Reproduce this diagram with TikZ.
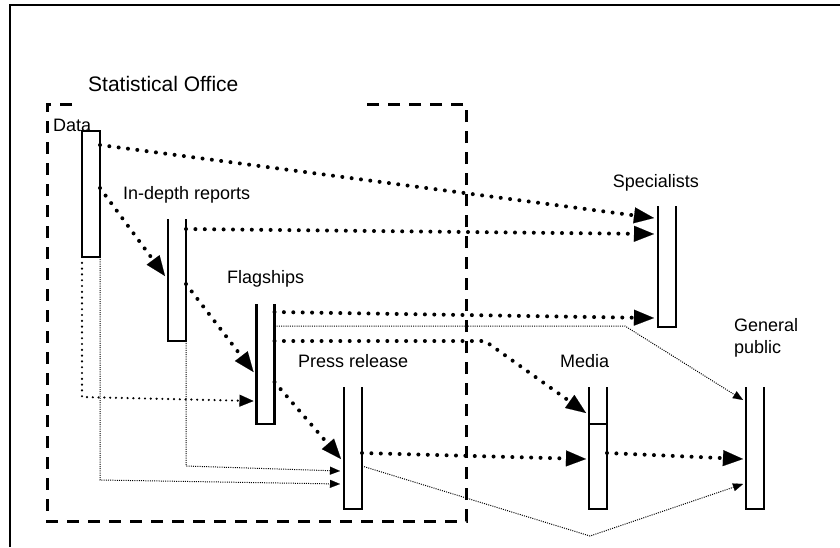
\documentclass[tikz,border=0pt]{standalone}
\usepackage{fontspec}
\setmainfont{Liberation Sans}
\usetikzlibrary{arrows.meta,calc}
\begin{document}
\begin{tikzpicture}[x=1pt,y=-1pt,
  box/.style={draw=none,inner sep=0pt,outer sep=0pt,minimum width=18pt},
  boxline/.style={line width=2.7pt,line join=miter},
  lbl/.style={anchor=base west,inner sep=0pt,font=\fontsize{18}{21.7}\selectfont},
  thickdot/.style={line width=4pt,dash pattern=on 0pt off 9.4pt,line cap=round,-{Triangle[length=20pt,width=16pt,line width=0.1pt]}},
  meddot/.style={line width=2.4pt,dash pattern=on 0pt off 5.8pt,line cap=round,-{Triangle[length=14pt,width=12pt,line width=0.1pt]}},
  thindot/.style={line width=1pt,dash pattern=on 1pt off 1.2pt,-{Triangle[length=10pt,width=8pt,line width=0.1pt]}},
  office/.style={line width=3pt,dash pattern=on 12pt off 9pt,line join=miter},
]
\useasboundingbox (0,0) rectangle (840,547);
% outer frame (cut by the picture edge)
\draw[line width=1.4pt] (10,547) -- (10,5) -- (840,5);

% statistical office boundary
\draw[office] (72,104) -- (47,104) -- (47,521) -- (466,521) -- (466,104) -- (359,104);

% boxes
\node[box,minimum height=126pt] (data)    at (91,194) {};
\node[box,minimum height=122pt] (indepth) at (177,280) {};
\node[box,minimum height=120pt] (flag)    at (265.5,364) {};
\node[box,minimum height=121pt] (spec)    at (667,266.5) {};
\node[box,minimum height=122pt] (press)   at (353,448) {};
\node[box,minimum height=122pt] (media)   at (598,448) {};
\node[box,minimum height=122pt] (gp)      at (755,448) {};

\draw[boxline] (data.north west) rectangle (data.south east);
\foreach \b in {indepth,flag,spec,press,media,gp}
  \draw[boxline] (\b.north west) -- (\b.south west) -- (\b.south east) -- (\b.north east);
\draw[boxline] (media.west |- 0,424) -- (media.east |- 0,424);

% labels
\node[anchor=base west,inner sep=0pt,font=\fontsize{21}{24}\selectfont] (lof) at (88,91.7) {Statistical Office};
\node[lbl] (ldata) at (53,131) {Data};
\node[lbl] (lind)  at (123,199) {In-depth reports};
\node[lbl] (lspec) at (612.7,187) {Specialists};
\node[lbl] (lflag) at (227,283.5) {Flagships};
\node[lbl] (lpress) at (298,367.3) {Press release};
\node[lbl] (lmedia) at (560,367.3) {Media};
\node[lbl,align=left] (lgp) at (734,353.3) {General\\public};

% thick dotted connectors
\draw[thickdot] (data.east |- 0,145) -- ($(spec.west |- 0,218)+(-4,0)$);
\draw[thickdot] (indepth.east |- 0,229) -- ($(spec.west |- 0,234)+(-4,0)$);
\draw[thickdot] (data.east |- 0,188) -- ($(indepth.west |- 0,276)+(-3,0)$);
\draw[thickdot] (indepth.east |- 0,284) -- ($(flag.west |- 0,372)+(-3,0)$);
\draw[thickdot] (flag.east |- 0,382) -- ($(press.west |- 0,459)+(-3,0)$);
\draw[thickdot] (flag.east |- 0,312) -- ($(spec.west |- 0,318)+(-4,0)$);
\draw[thickdot] (flag.east |- 0,341) -- (485,341) -- ($(media.west |- 0,413)+(-3,0)$);
\draw[thickdot] (press.east |- 0,453) -- ($(media.west |- 0,459)+(-3,0)$);
\draw[thickdot] (media.east |- 0,453) -- ($(gp.west |- 0,459)+(-3,0)$);

% medium dotted connector
\draw[meddot] (data.south west) -- (data.south west |- 0,397) -- ($(flag.west |- 0,401)+(-3,0)$);

% thin dotted connectors
\draw[thindot] (flag.east |- 0,326) -- (625,326) -- ($(gp.west |- 0,400)+(-3,0)$);
\draw[thindot] (press.east |- 0,466) -- (590,536) -- ($(gp.west |- 0,484)+(-3,0)$);
\draw[thindot] (data.south east) -- (data.south east |- 0,480) -- ($(press.west |- 0,484)+(-4,0)$);
\draw[thindot] (indepth.south east) -- (indepth.south east |- 0,466) -- ($(press.west |- 0,471)+(-4,0)$);
\end{tikzpicture}
\end{document}
